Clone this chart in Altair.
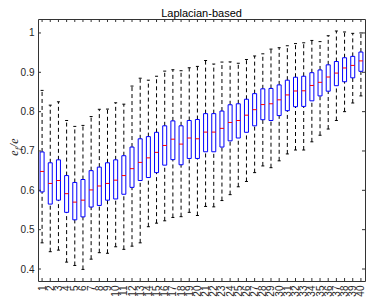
import altair as alt
import pandas as pd

positions = list(range(1, 41))
whisker_low = [0.4665, 0.444, 0.448, 0.4175, 0.409, 0.399, 0.425, 0.4415, 0.440, 0.4565,
               0.450, 0.458, 0.4665, 0.5075, 0.5165, 0.5225, 0.531, 0.533, 0.544, 0.536,
               0.559, 0.558, 0.574, 0.589, 0.609, 0.6225, 0.645, 0.662, 0.6575, 0.675,
               0.6925, 0.7025, 0.7025, 0.7233, 0.740, 0.7558, 0.7775, 0.800, 0.822, 0.840]
q1 = [0.596, 0.565, 0.575, 0.544, 0.525, 0.5325, 0.5575, 0.5615, 0.575, 0.578,
      0.590, 0.6075, 0.625, 0.6325, 0.645, 0.664, 0.678, 0.665, 0.681, 0.681,
      0.698, 0.698, 0.710, 0.7258, 0.733, 0.7475, 0.764, 0.7795, 0.7775, 0.790,
      0.8025, 0.8125, 0.8133, 0.8275, 0.840, 0.852, 0.866, 0.876, 0.886, 0.9025]
median = [0.648, 0.6175, 0.625, 0.5915, 0.570, 0.575, 0.601, 0.611, 0.6175, 0.6258,
          0.6375, 0.655, 0.671, 0.6825, 0.6965, 0.714, 0.730, 0.7175, 0.733, 0.731,
          0.748, 0.748, 0.7575, 0.7725, 0.7775, 0.791, 0.805, 0.818, 0.820, 0.830,
          0.8425, 0.8525, 0.853, 0.8665, 0.8745, 0.888, 0.898, 0.911, 0.9175, 0.929]
q3 = [0.6975, 0.670, 0.6775, 0.6375, 0.620, 0.6275, 0.650, 0.659, 0.670, 0.6775,
      0.688, 0.710, 0.731, 0.7365, 0.7475, 0.764, 0.7765, 0.764, 0.7775, 0.780,
      0.795, 0.795, 0.8015, 0.8175, 0.820, 0.8315, 0.8458, 0.858, 0.859, 0.868,
      0.880, 0.8875, 0.890, 0.899, 0.906, 0.919, 0.9275, 0.937, 0.9405, 0.9515]
whisker_high = [0.854, 0.8165, 0.825, 0.7775, 0.7625, 0.765, 0.7875, 0.806, 0.8065, 0.8225,
                0.819, 0.865, 0.885, 0.880, 0.890, 0.903, 0.9065, 0.904, 0.9115, 0.915,
                0.930, 0.921, 0.926, 0.9265, 0.923, 0.9325, 0.9415, 0.947, 0.959, 0.9625,
                0.9675, 0.973, 0.975, 0.981, 0.978, 0.993, 1.005, 1.0025, 0.999, 1.000]
y_ticks = [0.4, 0.5, 0.6, 0.7, 0.8, 0.9, 1.0]
title_text = "Laplacian-based"

df = pd.DataFrame({"pos": positions, "lo": whisker_low, "q1": q1,
                   "med": median, "q3": q3, "hi": whisker_high})
ydf = pd.DataFrame({"v": y_ticks})
xdf = pd.DataFrame({"pos": positions})
one = pd.DataFrame({"k": [0]})

PL, PT, PR, PB = 30, 11, 1, 16
W, H = 358 - PL - PR, 289 - PT - PB
AX = "#333333"
FONT = "Liberation Sans"
xs = alt.Scale(domain=[0.5, 40.5], nice=False, zero=False)
ys = alt.Scale(domain=[0.3695, 1.0355], nice=False, zero=False)

x_axis = alt.Axis(values=positions, labelAngle=270, ticks=False, domain=False, grid=False,
                  labelFontSize=10, labelFont=FONT, labelColor="#262626", labelPadding=4,
                  title=None, labelOverlap=False)
y_axis = alt.Axis(values=y_ticks, format=".1~f", ticks=False, domain=False, grid=False,
                  labelFontSize=10, labelFont=FONT, labelColor="#262626", labelPadding=4,
                  title=None)

def XQ(f):
    return alt.X(f, scale=xs, axis=x_axis)

def YQ(f):
    return alt.Y(f, scale=ys, axis=y_axis)

base = alt.Chart(df)

upper = base.mark_rule(color="#000000", strokeWidth=1, strokeDash=[4, 3]).encode(
    x=XQ("pos:Q"), y=YQ("q3:Q"), y2="hi:Q")
lower = base.mark_rule(color="#000000", strokeWidth=1, strokeDash=[4, 3]).encode(
    x=XQ("pos:Q"), y=YQ("lo:Q"), y2="q1:Q")
cap_hi = base.mark_rule(color="#000000", strokeWidth=1, xOffset=-1.5, x2Offset=1.5).encode(
    x=XQ("pos:Q"), x2="pos:Q", y=YQ("hi:Q"))
cap_lo = base.mark_rule(color="#000000", strokeWidth=1, xOffset=-1.5, x2Offset=1.5).encode(
    x=XQ("pos:Q"), x2="pos:Q", y=YQ("lo:Q"))
boxes = base.mark_rect(fillOpacity=0, fill="white", stroke="#0000ff", strokeWidth=1,
                       xOffset=-2, x2Offset=2).encode(
    x=XQ("pos:Q"), x2="pos:Q", y=YQ("q1:Q"), y2="q3:Q")
meds = base.mark_rule(color="#ff0000", strokeWidth=1, xOffset=-2, x2Offset=2).encode(
    x=XQ("pos:Q"), x2="pos:Q", y=YQ("med:Q"))

tick_l = alt.Chart(ydf).mark_rule(color=AX).encode(
    y=YQ("v:Q"), x=alt.value(0), x2=alt.value(3))
tick_r = alt.Chart(ydf).mark_rule(color=AX).encode(
    y=YQ("v:Q"), x=alt.value(W - 3), x2=alt.value(W))
tick_t = alt.Chart(xdf).mark_rule(color=AX).encode(
    x=XQ("pos:Q"), y=alt.value(0), y2=alt.value(3))
tick_b = alt.Chart(xdf).mark_rule(color=AX).encode(
    x=XQ("pos:Q"), y=alt.value(H - 3), y2=alt.value(H))

def piece(txt, size, xv, yv):
    return alt.Chart(one).mark_text(text=txt, angle=270, font="Liberation Serif",
                                     fontStyle="italic", fontSize=size, align="center",
                                     baseline="alphabetic", color="#262626").encode(
        x=alt.value(xv), y=alt.value(yv))

ytitle = [piece("e", 12, -20, 134), piece("f", 8, -17, 130),
          piece("/", 12, -20, 126.5), piece("e", 12, -20, 122)]

title = alt.Chart(one).mark_text(text=title_text, font=FONT, fontSize=11, align="center",
                                 baseline="alphabetic", color="#000000").encode(
    x=alt.value(W / 2), y=alt.value(-2))

chart = alt.layer(upper, lower, cap_hi, cap_lo, boxes, meds,
                  tick_l, tick_r, tick_t, tick_b, *ytitle, title).properties(
    width=W, height=H,
    padding={"left": PL, "top": PT, "right": PR, "bottom": PB},
    autosize=alt.AutoSizeParams(type="none"),
).configure_view(stroke=AX, strokeWidth=1)

chart.save("out.html", embed_options={"renderer": "svg", "actions": False})
